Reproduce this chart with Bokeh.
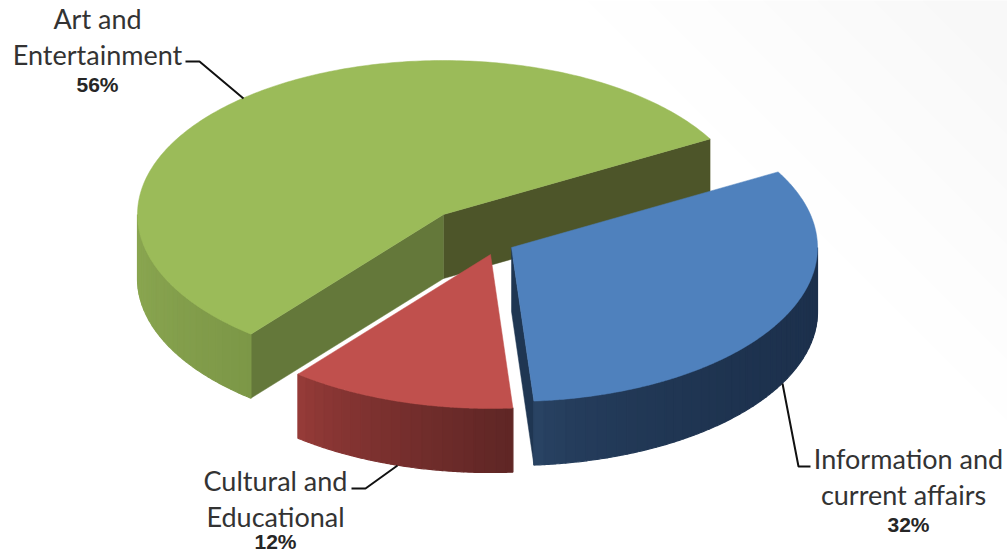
import numpy as np
from bokeh.plotting import figure
from bokeh.models import Range1d
from bokeh.core.properties import value
from bokeh.embed import file_html
from bokeh.resources import INLINE

categories = ["Art and Entertainment", "Cultural and Educational", "Information and current affairs"]
shares = [56, 12, 32]
percent_labels = ["56%", "12%", "32%"]

top_colors = ["#9bbb59", "#c0504d", "#4f81bd"]
wall_from = ["#8aa650", "#993c39", "#2c4869"]
wall_to = ["#7c9747", "#5f2625", "#1c304c"]
wall_gamma = [0.7, 0.7, 0.4]
cut_colors = [("#4d5529", "#64783a"), None, ("#1f3652", None)]
apex = [(443, 214), (490, 254), (511, 247)]
RX, RY, DEPTH = 306, 154, 64
START_DEG = 29.4

p = figure(width=1007, height=556, output_backend="svg", toolbar_location=None,
           x_range=Range1d(0, 1007), y_range=Range1d(556, 0),
           x_axis_type=None, y_axis_type=None, min_border=0)
p.grid.visible = False
p.outline_line_color = None
p.background_fill_color = "white"
p.border_fill_color = "white"

# faint backdrop in the upper right corner
for L, g in zip([420, 360, 300, 245, 190, 135, 85], ["#fefefe", "#fdfdfd", "#fcfcfc", "#fbfbfb", "#fafafa", "#f9f9f9", "#f8f8f8"]):
    p.patch([1007 - L, 1007, 1007], [0, 0, L], fill_color=g, line_color=None)


def hex2rgb(h):
    return np.array([int(h[i:i + 2], 16) for i in (1, 3, 5)], dtype=float)


def mix(a, b, t):
    c = hex2rgb(a) * (1 - t) + hex2rgb(b) * t
    return "#%02x%02x%02x" % tuple(int(round(v)) for v in c)


def rim(cx, cy, a0, a1, n=120):
    t = np.radians(np.linspace(a0, a1, n))
    return cx + RX * np.cos(t), cy - RY * np.sin(t)


edges = START_DEG + np.cumsum([0] + shares) * 3.6
ranges = [(edges[i], edges[i + 1]) for i in range(len(shares))]


def draw_outer_wall(i):
    a0, a1 = ranges[i]
    cx, cy = apex[i]
    low, high = max(a0, 180), min(a1, 360)
    if low >= high:
        return
    steps = np.arange(low, high, 2.0).tolist() + [high]
    xa = cx + RX * np.cos(np.radians(low))
    xb = cx + RX * np.cos(np.radians(high))
    for s0, s1 in zip(steps[:-1], steps[1:]):
        x, y = rim(cx, cy, s0, s1, 6)
        t = (x.mean() - min(xa, xb)) / abs(xb - xa)
        col = mix(wall_from[i], wall_to[i], t ** wall_gamma[i])
        p.patch(np.r_[x, x[::-1]], np.r_[y, y[::-1] + DEPTH], fill_color=col, line_color=col, line_width=1.2)


def draw_cut(i, angle, col):
    cx, cy = apex[i]
    ex = cx + RX * np.cos(np.radians(angle))
    ey = cy - RY * np.sin(np.radians(angle))
    p.patch([cx, ex, ex, cx], [cy, ey, ey + DEPTH, cy + DEPTH], fill_color=col, line_color=col, line_width=0.5)


def draw_top(i):
    a0, a1 = ranges[i]
    cx, cy = apex[i]
    x, y = rim(cx, cy, a0, a1, 240)
    p.patch(np.r_[cx, x], np.r_[cy, y], fill_color=top_colors[i], line_color=top_colors[i], line_width=0.5)


draw_cut(0, ranges[0][0], cut_colors[0][0])
draw_cut(0, ranges[0][1], cut_colors[0][1])
draw_outer_wall(0)
draw_top(0)
draw_cut(2, ranges[2][0], cut_colors[2][0])
draw_outer_wall(2)
draw_top(2)
draw_outer_wall(1)
draw_top(1)

p.line([185, 199, 243], [61, 61, 98], line_color="#111111", line_width=2)
p.line([351, 365, 397], [488, 488, 465], line_color="#111111", line_width=2)
p.line([782, 798, 810], [383, 466, 466], line_color="#111111", line_width=2)

name_lines = [["Art and", "Entertainment"], ["Cultural and", "Educational"], ["Information and", "current affairs"]]
name_pos = [[(97, 18), (97, 54)], [(275, 480), (275, 516)], [(908, 458), (903, 494)]]
pct_pos = [(97, 84), (275, 541), (908, 524)]
for lines, pos, pct, pp in zip(name_lines, name_pos, percent_labels, pct_pos):
    for s, (x, y) in zip(lines, pos):
        p.text([x], [y], text=[s], text_font=value("Lato"), text_font_size="27px",
               text_color="#333333", text_align="center", text_baseline="middle")
    p.text([pp[0]], [pp[1]], text=[pct], text_font=value("Liberation Sans"), text_font_size="21px",
           text_font_style="bold", text_color="#262626", text_align="center", text_baseline="middle")

open("out.html", "w").write(file_html(p, INLINE))
